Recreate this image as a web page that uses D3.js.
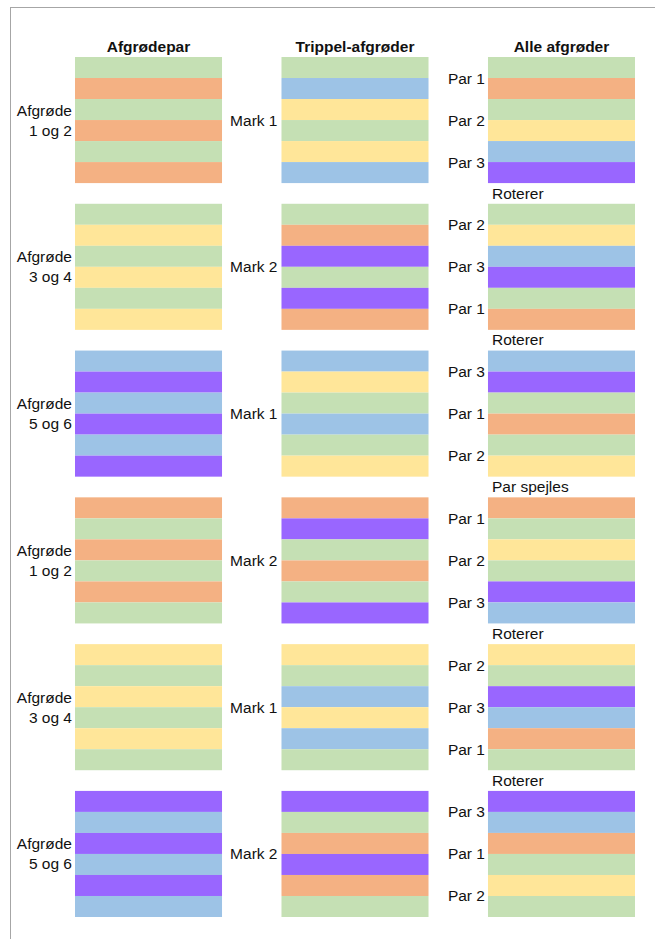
<!DOCTYPE html>
<html>
<head>
<meta charset="utf-8">
<script src="https://cdn.jsdelivr.net/npm/d3@7"></script>
<style>
    body { margin: 0; background: #fff; }
    text { font-family: "Liberation Sans", Arial, sans-serif; fill: #111; }
</style>
</head>
<body>
<div id="main"></div>
<script>
const width = 655, height = 939;

// column headers
const columns = ["Afgrødepar", "Trippel-afgrøder", "Alle afgrøder"];

// row labels
const pairLabels = [["Afgrøde", "1 og 2"], ["Afgrøde", "3 og 4"], ["Afgrøde", "5 og 6"],
                    ["Afgrøde", "1 og 2"], ["Afgrøde", "3 og 4"], ["Afgrøde", "5 og 6"]];
const markLabels = ["Mark 1", "Mark 2", "Mark 1", "Mark 2", "Mark 1", "Mark 2"];
const parOrder = [[1, 2, 3], [2, 3, 1], [3, 1, 2], [1, 2, 3], [2, 3, 1], [3, 1, 2]];
const transitions = ["Roterer", "Roterer", "Par spejles", "Roterer", "Roterer"];

// stripes, top to bottom (G green, O orange, Y yellow, B blue, P purple)
const pairStripes = ["GOGOGO", "GYGYGY", "BPBPBP", "OGOGOG", "YGYGYG", "PBPBPB"];
const tripleStripes = ["GBYGYB", "GOPGPO", "BYGBGY", "OPGOGP", "YGBYBG", "PGOPOG"];
const allStripes = ["GOGYBP", "GYBPGO", "BPGOGY", "OGYGPB", "YGPBOG", "PBOGYG"];

const cropColor = d3.scaleOrdinal()
    .domain(["G", "O", "Y", "B", "P"])
    .range(["#c5e0b4", "#f4b183", "#ffe699", "#9dc3e6", "#9966ff"]);

let svg = d3.select("#main").append("svg")
    .attr("width", width)
    .attr("height", height);

// frame
svg.append("rect")
    .attr("x", 10.5).attr("y", 7.5)
    .attr("width", 800).attr("height", 1000)
    .attr("fill", "none")
    .attr("stroke", "#a6a6a6");

let scaleX = d3.scaleBand().domain(columns).range([75, 635]).paddingInner(0.288);
let scaleY = d3.scaleBand().domain(d3.range(6)).range([57, 917]).paddingInner(0.141);
let scaleS = d3.scaleBand().domain(d3.range(6)).range([0, scaleY.bandwidth()]);

const stripeSets = [pairStripes, tripleStripes, allStripes];
const labelSize = "15.5px";

// headers
svg.selectAll(".header")
    .data(columns)
    .join("text")
    .attr("class", "header")
    .attr("x", d => scaleX(d) + scaleX.bandwidth() / 2)
    .attr("y", 51.5)
    .attr("text-anchor", "middle")
    .attr("font-weight", "bold")
    .attr("font-size", "15.5px")
    .text(d => d);

// stripe blocks
columns.forEach(function (col, ci) {
    let g = svg.append("g").attr("class", "col" + ci);
    stripeSets[ci].forEach(function (row, ri) {
        g.selectAll(".r" + ri)
            .data(row.split(""))
            .join("rect")
            .attr("class", "r" + ri)
            .attr("x", scaleX(col))
            .attr("y", (d, i) => scaleY(ri) + scaleS(i))
            .attr("width", scaleX.bandwidth())
            .attr("height", scaleS.bandwidth())
            .attr("fill", d => cropColor(d));
    });
});

// left labels: crop pairs
pairLabels.forEach(function (lines, ri) {
    let cy = scaleY(ri) + scaleY.bandwidth() / 2;
    svg.append("text")
        .attr("text-anchor", "end")
        .attr("font-size", labelSize)
        .selectAll("tspan")
        .data(lines)
        .join("tspan")
        .attr("x", scaleX(columns[0]) - 3)
        .attr("y", (d, i) => cy - 4.5 + i * 20)
        .text(d => d);
});

// middle labels: field
svg.selectAll(".mark")
    .data(markLabels)
    .join("text")
    .attr("class", "mark")
    .attr("x", scaleX(columns[1]) - 4)
    .attr("y", (d, i) => scaleY(i) + scaleY.bandwidth() / 2 + 5.5)
    .attr("text-anchor", "end")
    .attr("font-size", labelSize)
    .text(d => d);

// right labels: pair order
parOrder.forEach(function (order, ri) {
    svg.selectAll(".par" + ri)
        .data(order)
        .join("text")
        .attr("class", "par" + ri)
        .attr("x", scaleX(columns[2]) - 3)
        .attr("y", (d, i) => scaleY(ri) + scaleS(i * 2 + 1) + 5.5)
        .attr("text-anchor", "end")
        .attr("font-size", labelSize)
        .text(d => "Par " + d);
});

// transition notes between blocks
svg.selectAll(".note")
    .data(transitions)
    .join("text")
    .attr("class", "note")
    .attr("x", scaleX(columns[2]) + 4)
    .attr("y", (d, i) => scaleY(i) + scaleY.bandwidth() + 15.5)
    .attr("font-size", labelSize)
    .text(d => d);
</script>
</body>
</html>
